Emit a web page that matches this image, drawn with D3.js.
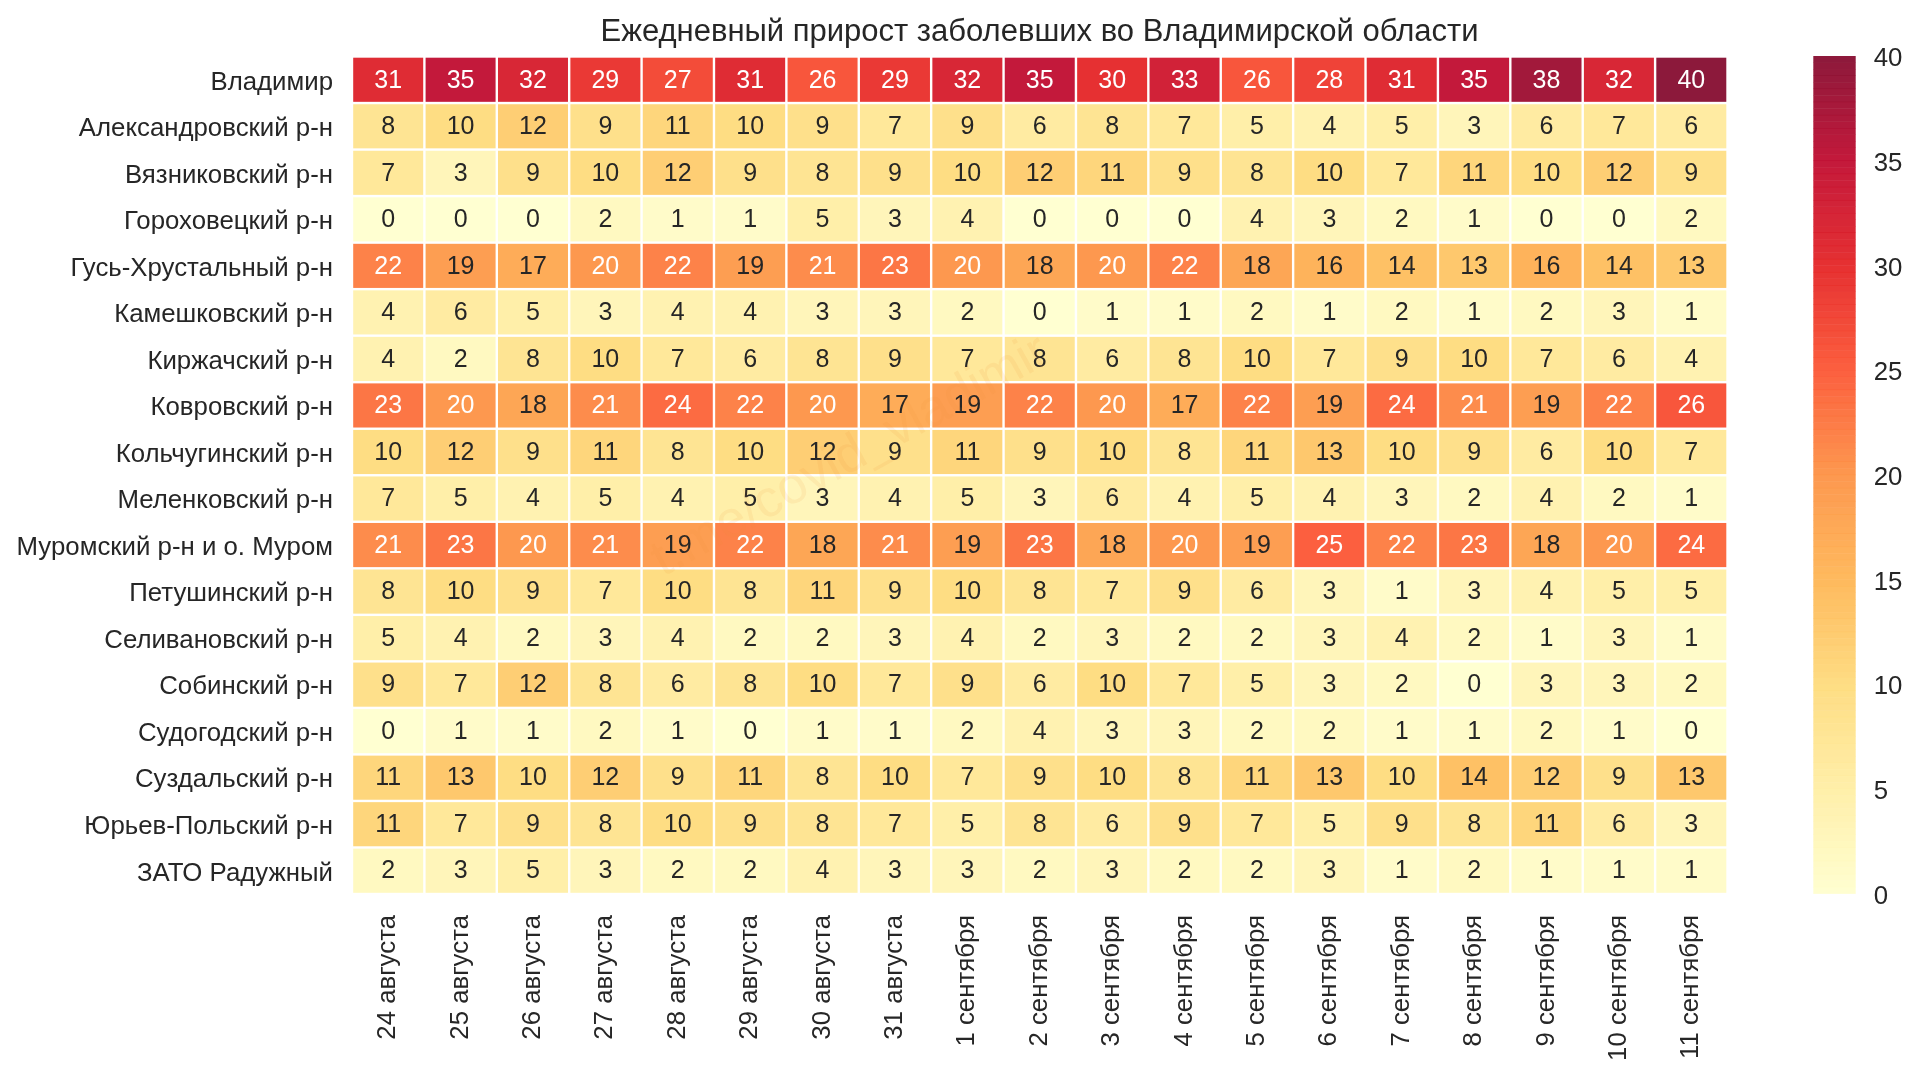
<!DOCTYPE html>
<html><head><meta charset="utf-8">
<script src="https://cdn.jsdelivr.net/npm/d3@7"></script>
<style>
html,body{margin:0;padding:0;background:#fff;overflow:hidden}
text{font-family:"Liberation Sans",Arial,sans-serif;fill:#262626}
.domain{display:none}
svg{filter:blur(0.45px)}
</style></head><body>
<svg id="c" width="1920" height="1076"></svg>
<script>
const titleText = "Ежедневный прирост заболевших во Владимирской области";
const watermark = "t.me/covid_vladimir";
const districts = ["Владимир","Александровский р-н","Вязниковский р-н","Гороховецкий р-н","Гусь-Хрустальный р-н","Камешковский р-н","Киржачский р-н","Ковровский р-н","Кольчугинский р-н","Меленковский р-н","Муромский р-н и о. Муром","Петушинский р-н","Селивановский р-н","Собинский р-н","Судогодский р-н","Суздальский р-н","Юрьев-Польский р-н","ЗАТО Радужный"];
const dates = ["24 августа","25 августа","26 августа","27 августа","28 августа","29 августа","30 августа","31 августа","1 сентября","2 сентября","3 сентября","4 сентября","5 сентября","6 сентября","7 сентября","8 сентября","9 сентября","10 сентября","11 сентября"];
const values = [
[31,35,32,29,27,31,26,29,32,35,30,33,26,28,31,35,38,32,40],
[8,10,12,9,11,10,9,7,9,6,8,7,5,4,5,3,6,7,6],
[7,3,9,10,12,9,8,9,10,12,11,9,8,10,7,11,10,12,9],
[0,0,0,2,1,1,5,3,4,0,0,0,4,3,2,1,0,0,2],
[22,19,17,20,22,19,21,23,20,18,20,22,18,16,14,13,16,14,13],
[4,6,5,3,4,4,3,3,2,0,1,1,2,1,2,1,2,3,1],
[4,2,8,10,7,6,8,9,7,8,6,8,10,7,9,10,7,6,4],
[23,20,18,21,24,22,20,17,19,22,20,17,22,19,24,21,19,22,26],
[10,12,9,11,8,10,12,9,11,9,10,8,11,13,10,9,6,10,7],
[7,5,4,5,4,5,3,4,5,3,6,4,5,4,3,2,4,2,1],
[21,23,20,21,19,22,18,21,19,23,18,20,19,25,22,23,18,20,24],
[8,10,9,7,10,8,11,9,10,8,7,9,6,3,1,3,4,5,5],
[5,4,2,3,4,2,2,3,4,2,3,2,2,3,4,2,1,3,1],
[9,7,12,8,6,8,10,7,9,6,10,7,5,3,2,0,3,3,2],
[0,1,1,2,1,0,1,1,2,4,3,3,2,2,1,1,2,1,0],
[11,13,10,12,9,11,8,10,7,9,10,8,11,13,10,14,12,9,13],
[11,7,9,8,10,9,8,7,5,8,6,9,7,5,9,8,11,6,3],
[2,3,5,3,2,2,4,3,3,2,3,2,2,3,1,2,1,1,1]
];
const cbTicks = [0,5,10,15,20,25,30,35,40];
const ylOrRd = ["#ffffcc","#ffeda0","#fed976","#feb24c","#fd8d3c","#fc4e2a","#e31a1c","#bd0026","#800026"];

const svg = d3.select("#c");
const FS = 25.8, ANNOT = 25, INK = "#262626", ALPHA = 0.9, GAP = 1.2;
const x = d3.scaleBand().domain(dates).range([352,1727.5]);
const y = d3.scaleBand().domain(districts).range([56.5,894]);
const color = d3.scaleLinear().domain(d3.range(9).map(i=>i*5)).range(ylOrRd).interpolate(d3.interpolateRgb);

const cells = values.flatMap((row,r)=>row.map((v,c)=>({v,r:districts[r],c:dates[c]})));
const cell = svg.append("g").selectAll("g").data(cells).join("g");
cell.append("rect")
  .attr("x",d=>x(d.c)+GAP).attr("y",d=>y(d.r)+GAP)
  .attr("width",x.bandwidth()-2*GAP).attr("height",y.bandwidth()-2*GAP)
  .attr("fill",d=>color(d.v)).attr("fill-opacity",ALPHA);
cell.append("text")
  .attr("x",d=>x(d.c)+x.bandwidth()/2).attr("y",d=>y(d.r)+y.bandwidth()/2-1)
  .attr("dy","0.35em").attr("text-anchor","middle").attr("font-size",ANNOT)
  .style("fill",d=>d.v>=20?"#ffffff":INK).text(d=>d.v);

const yAxis = svg.append("g").attr("transform","translate(352,0)")
  .call(d3.axisLeft(y).tickSize(0).tickPadding(19));
yAxis.selectAll("text").attr("font-size",FS).attr("dy","0.38em");

const xAxis = svg.append("g").attr("transform","translate(0,894)")
  .call(d3.axisBottom(x).tickSize(0).tickPadding(0));
xAxis.selectAll("text").attr("font-size",FS)
  .attr("text-anchor","end").attr("dy",0).attr("y",0)
  .attr("transform","translate(7,21) rotate(-90)");

svg.selectAll(".tick line").remove();

svg.append("text").attr("x",1039.5).attr("y",41).attr("text-anchor","middle")
  .attr("font-size",31).text(titleText);

// colorbar
const cbX0 = 1813.3, cbW = 42.4;
const cbY = d3.scaleLinear().domain([0,40]).range([893.5,56]);
const steps = d3.range(0,40,40/128);
svg.append("g").selectAll("rect").data(steps).join("rect")
  .attr("x",cbX0).attr("width",cbW)
  .attr("y",d=>cbY(d+40/128)).attr("height",d=>cbY(d)-cbY(d+40/128)+0.35)
  .attr("fill",d=>color(d+20/128)).attr("fill-opacity",ALPHA);
const cbAxis = svg.append("g").attr("transform",`translate(${cbX0+cbW},0)`)
  .call(d3.axisRight(cbY).tickValues(cbTicks).tickSize(0).tickPadding(18));
cbAxis.selectAll("text").attr("font-size",FS).attr("dy","0.38em");
cbAxis.selectAll(".tick line").remove();

// faint watermark lying across the middle of the map
svg.append("text").attr("transform","translate(663,577) rotate(-29)")
  .attr("font-size",52).style("fill","#f08a30").style("fill-opacity",0.1)
  .text(watermark);
</script></body></html>
